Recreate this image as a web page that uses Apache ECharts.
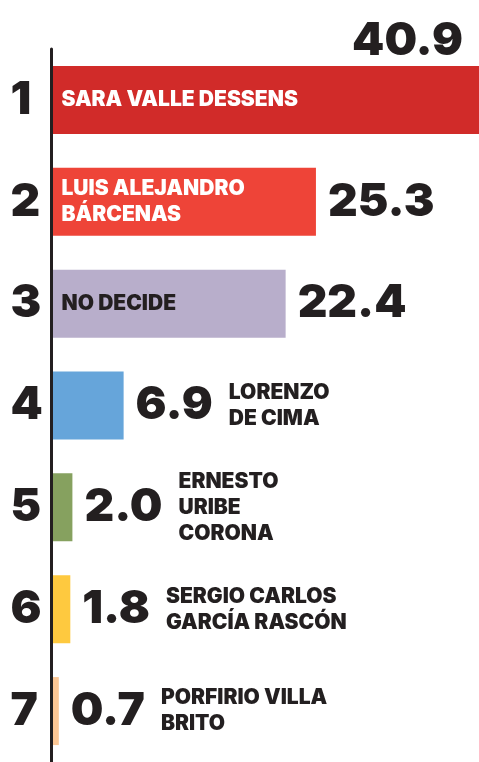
<!DOCTYPE html>
<html>
<head>
<meta charset="utf-8">
<script src="https://cdn.jsdelivr.net/npm/echarts@6/dist/echarts.min.js"></script>
<style>
  html, body { margin: 0; padding: 0; background: #fff; }
  #main { width: 479px; height: 762px; }
</style>
</head>
<body>
<div id="main"></div>
<script>
// datos
var ranks = ['1', '2', '3', '4', '5', '6', '7'];
var names = [
    'SARA VALLE DESSENS',
    'LUIS ALEJANDRO\nBÁRCENAS',
    'NO DECIDE',
    'LORENZO\nDE CIMA',
    'ERNESTO\nURIBE\nCORONA',
    'SERGIO CARLOS\nGARCÍA RASCÓN',
    'PORFIRIO VILLA\nBRITO'
];
var values = [40.9, 25.3, 22.4, 6.9, 2.0, 1.8, 0.7];

// estilos
var barColors = ['#d12b29', '#ee4438', '#b8aecb', '#66a5da', '#86a15f', '#fec93f', '#fcc795'];
var insideInk = ['#fff', '#fff', '#231f20', '#fff', '#fff', '#fff', '#fff'];
var ink = '#231f20';
var font = 'Inter, Roboto, sans-serif';
var nameSize = 21, valueSize = 46;
var gridLeft = 51.5, chartW = 479;
var xMax = 40.9;

var ctx = document.createElement('canvas').getContext('2d');
function textW(str, size) {
    ctx.font = '900 ' + size + 'px ' + font;
    return Math.max.apply(null, str.split('\n').map(function (s) { return ctx.measureText(s).width; }));
}

var barData = [];
var valueData = [];
values.forEach(function (v, i) {
    var barPx = v / xMax * (chartW - gridLeft);
    var nameFits = textW(names[i], nameSize) + 20 < barPx;
    var valW = textW(v.toFixed(1), valueSize);
    var top = v === Math.max.apply(null, values);
    barData.push({
        value: v,
        itemStyle: { color: barColors[i] },
        label: nameFits ? {
            position: 'insideLeft',
            distance: 10,
            color: insideInk[i]
        } : {
            position: 'right',
            distance: 12 + valW + 16,
            color: ink
        }
    });
    valueData.push({
        value: v,
        label: top ? {
            position: ['100%', '0%'],
            align: 'right',
            verticalAlign: 'bottom',
            offset: [-16, -2]
        } : {
            position: 'right',
            distance: 12
        }
    });
});

var myChart = echarts.init(document.getElementById('main'));
option = {
    animation: false,
    grid: {
        left: gridLeft,
        right: 0,
        top: 49,
        height: 741
    },
    xAxis: {
        type: 'value',
        min: 0,
        max: xMax,
        show: false
    },
    yAxis: {
        type: 'category',
        inverse: true,
        data: ranks,
        z: 5,
        axisLine: { lineStyle: { color: ink, width: 3 } },
        axisTick: { show: false },
        axisLabel: {
            align: 'left',
            margin: 41,
            color: ink,
            fontFamily: font,
            fontWeight: 900,
            fontSize: 46
        }
    },
    series: [
        {
            name: 'barras',
            type: 'bar',
            barWidth: 68,
            silent: true,
            data: barData,
            label: {
                show: true,
                formatter: function (p) { return names[p.dataIndex]; },
                fontFamily: font,
                fontWeight: 900,
                fontSize: nameSize,
                lineHeight: 26
            }
        },
        {
            name: 'valores',
            type: 'bar',
            barWidth: 68,
            barGap: '-100%',
            silent: true,
            itemStyle: { color: 'rgba(0,0,0,0)' },
            data: valueData,
            label: {
                show: true,
                formatter: function (p) { return p.value.toFixed(1); },
                color: ink,
                fontFamily: font,
                fontWeight: 900,
                fontSize: valueSize
            }
        }
    ]
};
myChart.setOption(option);
</script>
</body>
</html>
